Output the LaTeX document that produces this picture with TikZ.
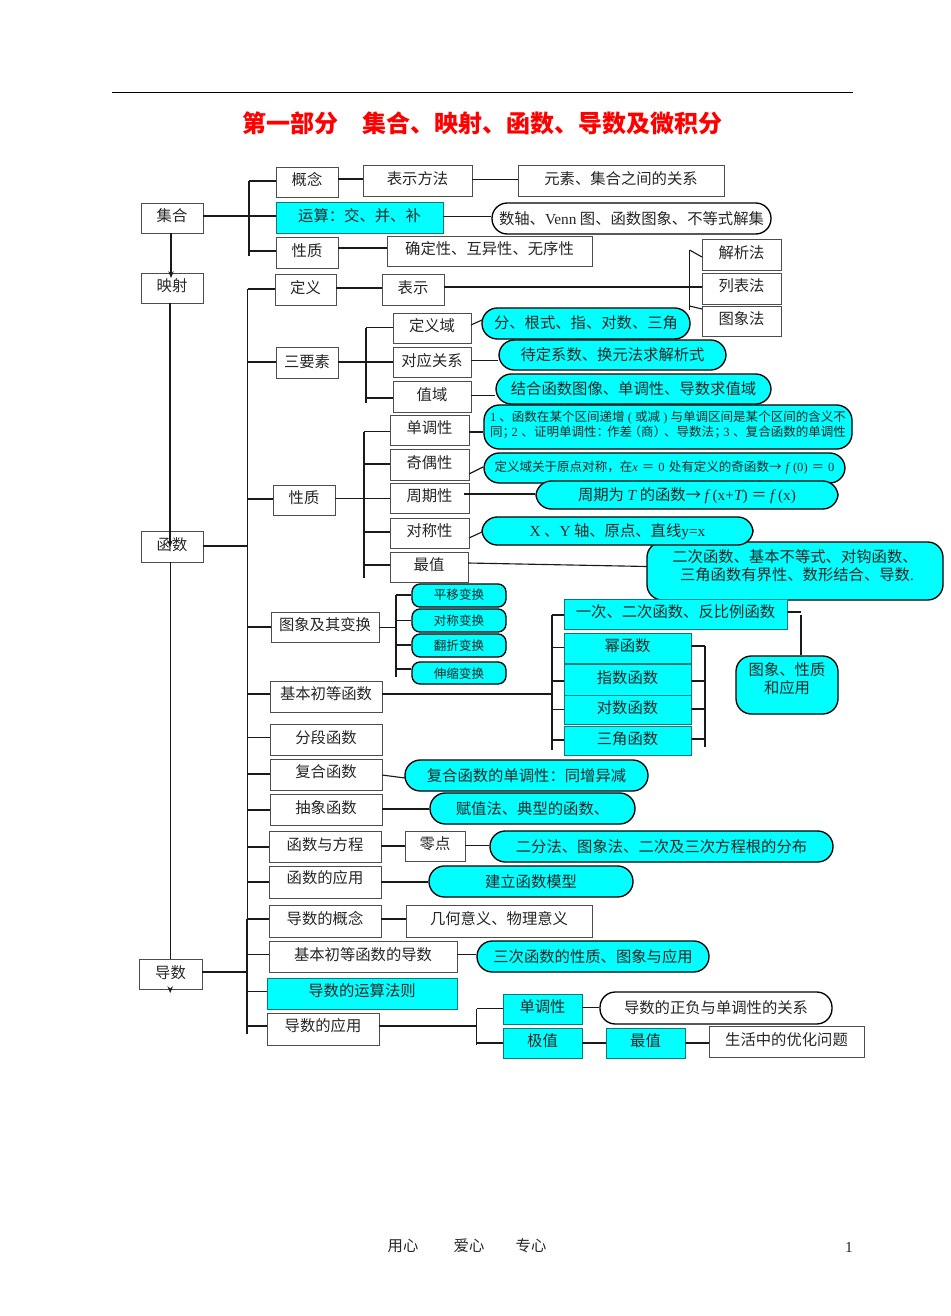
\documentclass[tikz,border=0pt]{standalone}
\usepackage{fontspec}
\usetikzlibrary{arrows.meta}
\setmainfont{Noto Sans CJK SC}
\newfontfamily\latf{Liberation Serif}
\newcommand\latn[1]{{\latf #1}}
\newcommand\lati[1]{{\latf\itshape #1}}
\definecolor{cy}{HTML}{00FFFF}
\definecolor{boxc}{HTML}{4D4D4D}
\definecolor{tealc}{HTML}{007A7A}
\definecolor{linec}{HTML}{1A1A1A}
\definecolor{txtc}{HTML}{262626}
\newcommand\fz{\fontsize{11.5}{11.8}\selectfont}
\newcommand\fs{\fontsize{9.4}{10.7}\selectfont}
\newcommand\bx[8]{%
  \pgfmathsetmacro\bxcx{(#3+#5)/2}%
  \pgfmathsetmacro\bxcy{(#4+#6)/2}%
  \pgfmathsetmacro\bxww{(#5-#3)*0.75}%
  \pgfmathsetmacro\bxhh{(#6-#4)*0.75}%
  \pgfmathsetmacro\bxdy{-(#7+0.7)*0.75}%
  \node[#1,minimum width=\bxww pt,minimum height=\bxhh pt] (#2) at (\bxcx,\bxcy)
    {\raisebox{\bxdy pt}[\height][\depth]{#8}};}
% horizontal link between two named things at a given height
\newcommand\hc[3]{\draw[conn] (#1 |- 0,#3) -- (#2 |- 0,#3);}
\tikzset{
  conn/.style={draw=linec,line width=0.85pt},
  tip/.style={conn,-{Stealth[length=5pt,width=4pt]}},
  base/.style={rectangle,inner sep=0pt,text=txtc,font=\fz},
  box/.style={base,draw=boxc,fill=white,line width=0.7pt},
  cbox/.style={base,draw=tealc,fill=cy,line width=0.7pt},
  pill/.style={base,draw=black,fill=cy,line width=1pt,rounded corners=11.5pt},
  wpill/.style={pill,fill=white},
  spill/.style={pill,font=\fs,rounded corners=6pt},
  free/.style={inner sep=0pt,text=txtc,font=\fz},
  headline/.style={inner sep=0pt,text=red,font=\fontsize{18}{20}\selectfont\bfseries},
}
\begin{document}
\begin{tikzpicture}[x=0.75pt,y=-0.75pt]
\useasboundingbox (0,0) rectangle (950,1316);
% rule, title, footer
\coordinate (rl) at (112,92.5);
\coordinate (rr) at (853,92.5);
\draw[draw=black,line width=0.8pt] (rl) -- (rr);
\node[headline] (title) at (482.5,123) {第一部分\hspace{18pt}集合、映射、函数、导数及微积分};
\node[free] (f1) at (403,1246) {用心};
\node[free] (f2) at (469,1246) {爱心};
\node[free] (f3) at (531,1246) {专心};
\node[free] (pg) at (849,1247) {\latn{1}};
% left column
\bx{box}{jihe}{141}{203}{203}{233}{-3}{集合}
\bx{box}{yingshe}{141}{273}{203}{303}{-3}{映射}
\bx{box}{hanshu}{141}{531}{203}{562}{-3}{函数}
% set section
\bx{box}{gainian}{276}{167}{338}{197}{-3}{概念}
\bx{box}{biaoshifa}{363}{165}{472}{196}{-2.5}{表示方法}
\bx{box}{yuansu}{518}{165}{724}{196}{-2.5}{元素、集合之间的关系}
\bx{cbox}{yunsuan}{276}{202}{443}{233}{-2.5}{运算：交、并、补}
\bx{wpill}{shuzhou}{492}{203}{771}{234}{-0.5}{数轴、\latn{Venn} 图、函数图象、不等式解集}
\bx{box}{xingzhia}{276}{237}{338}{268}{-3}{性质}
\bx{box}{queding}{387}{236}{592}{266}{-3}{确定性、互异性、无序性}
% function: definition
\bx{box}{dingyi}{275}{274}{336}{305}{-2.5}{定义}
\bx{box}{biaoshi}{382}{274}{444}{305}{-2.5}{表示}
\bx{box}{jiexi}{702}{239}{781}{270}{-3}{解析法}
\bx{box}{liebiao}{702}{273}{781}{304}{-3}{列表法}
\bx{box}{tuxiang}{702}{306}{781}{336}{-3}{图象法}
% three elements
\bx{box}{sanyao}{276}{347}{338}{378}{-2}{三要素}
\bx{box}{dingyiyu}{393}{313}{471}{343}{-3}{定义域}
\bx{box}{duiying}{393}{347}{471}{377}{-2.5}{对应关系}
\bx{box}{zhiyu}{393}{381}{471}{412}{-3}{值域}
\bx{pill}{fen}{482}{308}{690}{339}{-1}{分、根式、指、对数、三角}
\bx{pill}{daiding}{499}{340}{726}{370}{-1}{待定系数、换元法求解析式}
\bx{pill}{jiehe}{496}{374}{771}{404}{-1}{结合函数图像、单调性、导数求值域}
% properties
\bx{box}{xingzhib}{273}{485}{335}{515}{-3}{性质}
\bx{box}{dandiao}{390}{415}{469}{445}{-3}{单调性}
\bx{box}{jiou}{390}{449}{469}{480}{-3}{奇偶性}
\bx{box}{zhouqi}{390}{483}{469}{513}{-3}{周期性}
\bx{box}{duichen}{390}{518}{469}{548}{-3}{对称性}
\bx{box}{zuizhi}{390}{552}{468}{582}{-3}{最值}
\bx{pill}{ddtext}{484}{405}{852}{449}{-1.5}{\fs\begin{tabular}{@{}l@{}}
  \makebox[267pt][s]{\latn{1} 、函数在某个区间递增 \latn{(} 或减 \latn{)} 与单调区间是某个区间的含义不}\\
  \makebox[267pt][s]{同；\hspace{-2.6pt}\latn{2} 、证明单调性：\hspace{-1.6pt}作差\hspace{-2.6pt}（商）\hspace{-1.6pt}、导数法；\hspace{-2.6pt}\latn{3} 、复合函数的单调性}
  \end{tabular}}
\bx{pill}{jotext}{484}{453}{845}{483}{-1}{\fs\makebox[255pt][s]{定义域关于原点对称，在\lati{x} ＝ \latn{0} 处有定义的奇函数→ \lati{f} \latn{(0)} ＝ \latn{0}}}
\bx{pill}{zqtext}{536}{481}{838}{509}{0}{\makebox[163.5pt][s]{周期为 \lati{T} 的函数→ \lati{f} \latn{(x+}\lati{T}\latn{)} ＝ \lati{f} \latn{(x)}}}
\bx{pill}{zztext}{647}{542}{943}{600}{-4}{\begin{tabular}{@{}c@{}}二次函数、基本不等式、对钩函数、\\\hspace{0.25em}三角函数有界性、数形结合、导数\latn{.}\end{tabular}}
\bx{pill}{dctext}{482}{517}{753}{545}{0}{\latn{X} 、\latn{Y} 轴、原点、直线\latn{y=x}}
% transforms
\bx{box}{bianhuan}{271}{612}{379}{642}{-3}{图象及其变换}
\bx{spill}{pingyi}{412}{584}{506}{607}{-1}{平移变换}
\bx{spill}{duichenb}{412}{609}{506}{632}{-1}{对称变换}
\bx{spill}{fanzhe}{412}{634}{506}{657}{-1}{翻折变换}
\bx{spill}{shensuo}{412}{662}{506}{684}{-0.5}{伸缩变换}
% elementary functions
\bx{box}{jiben}{270}{681}{382}{712}{-3.5}{基本初等函数}
\bx{cbox}{yici}{564}{599}{787}{629}{-3}{一次、二次函数、反比例函数}
\bx{cbox}{mi}{564}{633}{691}{663}{-3}{幂函数}
\bx{cbox}{zhishu}{564}{664}{691}{695}{-2.5}{指数函数}
\bx{cbox}{duishu}{564}{695}{691}{724}{-2.5}{对数函数}
\bx{cbox}{sanjiao}{564}{726}{691}{755}{-2.5}{三角函数}
\bx{pill}{yingyong}{736}{656}{838}{714}{-5.5}{\begin{tabular}{@{}c@{}}图象、性质\\和应用\end{tabular}}
% lower functions
\bx{box}{fenduan}{270}{724}{382}{755}{-2.5}{分段函数}
\bx{box}{fuhe}{270}{759}{382}{790}{-3.5}{复合函数}
\bx{pill}{fuhet}{405}{760}{648}{791}{-1}{复合函数的单调性：同增异减}
\bx{box}{chouxiang}{270}{794}{382}{825}{-3}{抽象函数}
\bx{pill}{fuzhi}{430}{793}{635}{824}{-1}{赋值法、典型的函数、}
\bx{box}{fangcheng}{269}{831}{381}{862}{-2.5}{函数与方程}
\bx{box}{lingdian}{405}{831}{465}{861}{-3}{零点}
\bx{pill}{erfen}{490}{831}{833}{862}{-1}{二分法、图象法、二次及三次方程根的分布}
\bx{box}{hsyy}{269}{866}{381}{898}{-5}{函数的应用}
\bx{pill}{jianli}{429}{866}{633}{897}{-1}{建立函数模型}
% derivatives
\bx{box}{daoshu}{139}{959}{202}{989}{-2.5}{导数}
\bx{box}{dsgn}{269}{905}{381}{937}{-3}{导数的概念}
\bx{box}{jihe2}{406}{905}{592}{937}{-3}{几何意义、物理意义}
\bx{box}{jbds}{269}{941}{457}{972}{-2.5}{基本初等函数的导数}
\bx{pill}{sanci}{477}{941}{709}{972}{-1}{三次函数的性质、图象与应用}
\bx{cbox}{dsys}{267}{978}{457}{1009}{-3.5}{导数的运算法则}
\bx{box}{dsyy}{267}{1013}{379}{1045}{-4}{导数的应用}
\bx{cbox}{dd2}{503}{994}{582}{1024}{-3}{单调性}
\bx{wpill}{zhengfu}{600}{992}{832}{1024}{-1}{导数的正负与单调性的关系}
\bx{cbox}{jizhi}{503}{1028}{582}{1058}{-3}{极值}
\bx{cbox}{zz2}{606}{1028}{685}{1058}{-3}{最值}
\bx{box}{shenghuo}{709}{1026}{864}{1057}{-3}{生活中的优化问题}
% trunks
\coordinate (ta) at (249,181);  \coordinate (tb) at (249,256);
\coordinate (tc) at (247.5,289); \coordinate (td) at (247.5,931);
\coordinate (te) at (247,919);  \coordinate (tf) at (247,1034);
\coordinate (tg) at (689.5,250); \coordinate (th) at (689.5,310);
\coordinate (ti) at (366,327.5); \coordinate (tj) at (366,403);
\coordinate (tk) at (364,431.5); \coordinate (tl) at (364,578);
\coordinate (tm) at (396,595);  \coordinate (tn) at (396,677);
\coordinate (to) at (552,615);  \coordinate (tp) at (552,750);
\coordinate (tq) at (705,646);  \coordinate (tr) at (705,746.5);
\coordinate (ts) at (801,612);  \coordinate (tt) at (476.5,1008.5);
\coordinate (tu) at (476.5,1045);
\draw[conn] (ta) -- (tb);
\draw[conn] (tc) -- (td);
\draw[conn] (te) -- (tf);
\draw[conn] (tg) -- (th);
\draw[conn] (ti) -- (tj);
\draw[conn] (tk) -- (tl);
\draw[conn] (tm) -- (tn);
\draw[conn] (to) -- (tp);
\draw[conn] (tq) -- (tr);
\draw[conn] (tt) -- (tu);
% left arrows
\coordinate (xa) at (171,278);
\coordinate (xb) at (170,547);
\coordinate (xc) at (170.2,993);
\draw[tip] (xa |- jihe.south) -- (xa);
\draw[tip] (xb |- yingshe.south) -- (xb);
\draw[conn] (xc |- hanshu.south) -- (xc |- daoshu.north);
\draw[tip] (xc |- daoshu.south) -- (xc);
% set section links
\hc{ta}{gainian.west}{181}
\hc{jihe.east}{yunsuan.west}{216}
\hc{ta}{xingzhia.west}{251}
\hc{gainian.east}{biaoshifa.west}{179}
\hc{biaoshifa.east}{yuansu.west}{179.5}
\hc{yunsuan.east}{shuzhou.west}{216.5}
\hc{xingzhia.east}{queding.west}{248}
% trunk branches
\hc{tc}{dingyi.west}{289}
\hc{tc}{sanyao.west}{362}
\hc{tc}{xingzhib.west}{499}
\hc{hanshu.east}{tc}{546}
\hc{tc}{bianhuan.west}{627}
\hc{tc}{jiben.west}{694}
\hc{tc}{fenduan.west}{737.5}
\hc{tc}{fuhe.west}{774}
\hc{tc}{chouxiang.west}{810}
\hc{tc}{fangcheng.west}{847}
\hc{tc}{hsyy.west}{882}
\hc{te}{dsgn.west}{919}
\hc{te}{jbds.west}{954.5}
\hc{te}{dsys.west}{991.5}
\hc{te}{dsyy.west}{1026}
\hc{daoshu.east}{te}{972}
% definition
\hc{dingyi.east}{biaoshi.west}{288}
\hc{biaoshi.east}{liebiao.west}{287}
\coordinate (ja) at (702,257); \coordinate (jb) at (689.5,306); \coordinate (jc) at (702,309);
\draw[conn] (tg) -- (ja);
\draw[conn] (jb) -- (jc);
% three elements
\hc{sanyao.east}{duiying.west}{362}
\hc{ti}{dingyiyu.west}{327.5}
\hc{ti}{zhiyu.west}{398}
\coordinate (ka) at (471,325); \coordinate (kb) at (482,320);
\draw[conn] (ka) -- (kb);
\hc{duiying.east}{daiding.west}{360.5}
\hc{zhiyu.east}{jiehe.west}{395.5}
% properties
\hc{xingzhib.east}{zhouqi.west}{498.5}
\hc{tk}{dandiao.west}{431.5}
\hc{tk}{jiou.west}{464}
\hc{tk}{duichen.west}{532}
\hc{tk}{zuizhi.west}{565}
\hc{dandiao.east}{ddtext.west}{432}
\coordinate (ma) at (469,474); \coordinate (mb) at (483,467);
\draw[conn] (ma) -- (mb);
\coordinate (mc) at (464,494);
\draw[conn] (mc) -- (mc -| zqtext.west);
\coordinate (md) at (469,538); \coordinate (me) at (482,532);
\draw[conn] (md) -- (me);
\coordinate (mf) at (468,563); \coordinate (mg) at (647,566.5);
\draw[conn] (mf) -- (mg);
% transforms
\hc{bianhuan.east}{tm}{627.5}
\hc{tm}{pingyi.west}{595}
\hc{tm}{duichenb.west}{620.5}
\hc{tm}{fanzhe.west}{645}
\hc{tm}{shensuo.west}{669}
% elementary functions
\hc{jiben.east}{to}{694}
\hc{to}{yici.west}{615}
\hc{to}{mi.west}{647.5}
\hc{to}{zhishu.west}{681}
\hc{to}{duishu.west}{709.5}
\hc{to}{sanjiao.west}{740}
\hc{mi.east}{tq}{646}
\hc{zhishu.east}{tq}{681}
\hc{duishu.east}{tq}{709}
\hc{sanjiao.east}{tq}{739}
\hc{yici.east}{ts}{612}
\coordinate (na) at (801,615);
\draw[conn] (na) -- (na |- yingyong.north);
% lower functions
\coordinate (pa) at (382,775); \coordinate (pb) at (405,778);
\draw[conn] (pa) -- (pb);
\hc{chouxiang.east}{fuzhi.west}{809}
\hc{fangcheng.east}{lingdian.west}{846}
\hc{lingdian.east}{erfen.west}{845.5}
\hc{hsyy.east}{jianli.west}{882}
\hc{dsgn.east}{jihe2.west}{919}
\hc{jbds.east}{sanci.west}{954.5}
\hc{dsyy.east}{tt}{1026}
\hc{tt}{dd2.west}{1008.5}
\hc{tt}{jizhi.west}{1043}
\hc{dd2.east}{zhengfu.west}{1007.5}
\hc{jizhi.east}{zz2.west}{1043}
\hc{zz2.east}{shenghuo.west}{1043}
\end{tikzpicture}
\end{document}
